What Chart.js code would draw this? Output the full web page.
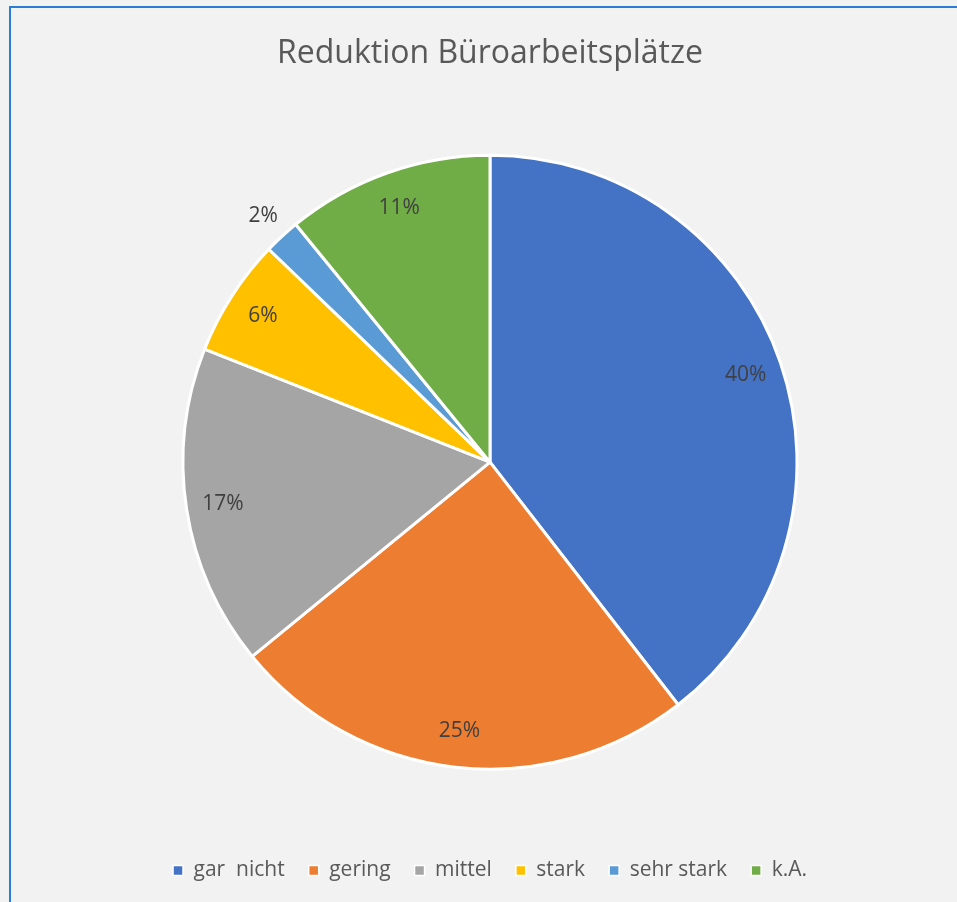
<!DOCTYPE html>
<html>
<head>
<meta charset="utf-8">
<script src="https://cdn.jsdelivr.net/npm/chart.js@4/dist/chart.umd.min.js"></script>
<style>
    body { margin: 0; background: #f2f2f2; }
    #wrap { position: relative; width: 957px; height: 902px; }
    #frame { position: absolute; left: 9px; top: 6px; right: -10px; bottom: -10px; border-left: 2px solid #2b7bd9; border-top: 2px solid #2b7bd9; }
    canvas { position: absolute; left: 0; top: 0; }
</style>
</head>
<body>
<div id="wrap">
    <div id="frame"></div>
    <canvas id="pieChart" width="957" height="902"></canvas>
</div>
<script>
const categories = ['gar  nicht', 'gering', 'mittel', 'stark', 'sehr stark', 'k.A.'];
const shares = [39.5, 24.6, 16.9, 6.2, 1.9, 10.9];
const shareLabels = ['40%', '25%', '17%', '6%', '2%', '11%'];
const sliceColors = ['#4472c4', '#ed7d31', '#a5a5a5', '#ffc000', '#5b9bd5', '#70ad47'];

// draws the percent labels, inside the slice except for the tiny one
const pieLabels = {
    id: 'pieLabels',
    afterDatasetsDraw(chart) {
        const ctx = chart.ctx;
        const arcs = chart.getDatasetMeta(0).data;
        ctx.save();
        ctx.font = '21px "Open Sans"';
        ctx.fillStyle = '#404040';
        ctx.textAlign = 'center';
        ctx.textBaseline = 'middle';
        arcs.forEach((arc, i) => {
            const mid = (arc.startAngle + arc.endAngle) / 2;
            const factor = shares[i] < 3 ? 1.09 : 0.88;
            const r = arc.outerRadius * factor;
            ctx.fillText(shareLabels[i], arc.x + Math.cos(mid) * r, arc.y + Math.sin(mid) * r);
        });
        ctx.restore();
    }
};

const ctx = document.getElementById('pieChart');
const pieChart = new Chart(ctx, {
    type: 'pie',
    data: {
        labels: categories,
        datasets: [
            {
                data: shares,
                backgroundColor: sliceColors,
                borderColor: '#ffffff',
                borderWidth: 3,
                radius: 307,
            },
        ],
    },
    options: {
        responsive: false,
        animation: false,
        layout: {
            padding: { left: 33, right: 10, top: 0, bottom: 11 },
        },
        plugins: {
            title: {
                display: true,
                text: 'Reduktion Büroarbeitsplätze',
                color: '#595959',
                font: { family: '"Open Sans"', size: 32, weight: 'normal' },
                padding: { top: 35, bottom: 15 },
            },
            legend: {
                position: 'bottom',
                labels: {
                    color: '#595959',
                    font: { family: '"Open Sans"', size: 21 },
                    boxWidth: 10,
                    boxHeight: 10,
                    padding: 24,
                    generateLabels(chart) {
                        const items = Chart.overrides.pie.plugins.legend.labels.generateLabels(chart);
                        items.forEach((item) => { item.lineWidth = 1.5; });
                        return items;
                    },
                },
            },
            tooltip: { enabled: false },
        },
    },
    plugins: [pieLabels],
});
</script>
</body>
</html>
